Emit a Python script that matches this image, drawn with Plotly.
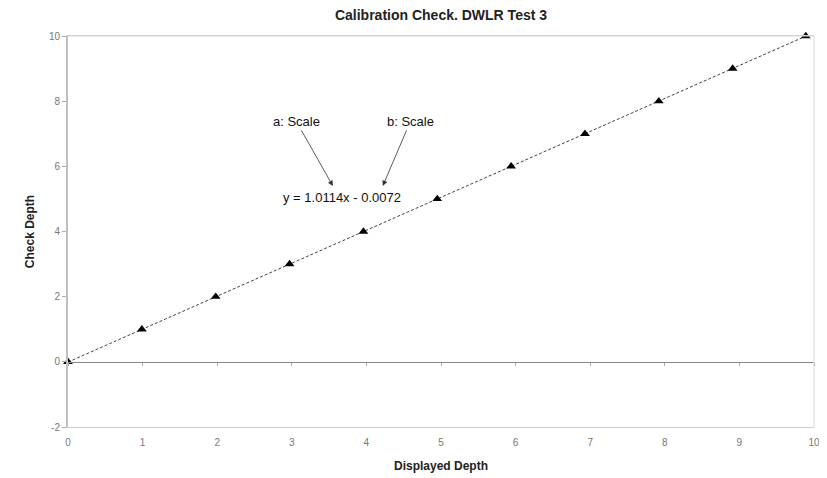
import plotly.graph_objects as go

displayed_depth = [0, 0.99, 1.98, 2.97, 3.96, 4.95, 5.94, 6.93, 7.92, 8.91, 9.89]
check_depth = [0, 1, 2, 3, 4, 5, 6, 7, 8, 9, 10]
slope = 1.0114
intercept = -0.0072
trend_x = [0, 9.89]
trend_y = [slope * v + intercept for v in trend_x]

x_ticks = list(range(0, 11))
y_ticks = [-2, 0, 2, 4, 6, 8, 10]
y_tick_labels = ["-2", "0", "2", "4", "6", "8", "10"]

title = "Calibration Check. DWLR Test 3"
x_title = "Displayed Depth"
y_title = "Check Depth"
eq_text = "y = 1.0114x - 0.0072"

FONT = "Liberation Sans, Arial, sans-serif"
W, H = 819, 470  # page body has an 8px margin

fig = go.Figure()
fig.add_trace(go.Scatter(x=trend_x, y=trend_y, mode="lines",
                         line=dict(color="#444444", width=1, dash="3px,2px"),
                         showlegend=False, hoverinfo="skip"))
fig.add_trace(go.Scatter(x=displayed_depth, y=check_depth, mode="markers",
                         marker=dict(symbol="triangle-up", size=8.5, color="black"),
                         showlegend=False, cliponaxis=False))
# invisible trace to show tick marks on the zero line
fig.add_trace(go.Scatter(x=[0, 10], y=[0, 0], xaxis="x2", mode="lines",
                         line=dict(width=0), showlegend=False, hoverinfo="skip"))

ann_font = dict(family=FONT, size=13, color="#111111")
fig.add_annotation(x=3.55, y=5.4, ax=3.06, ay=7.38, axref="x", ayref="y",
                   text="a: Scale", showarrow=True, arrowhead=2, arrowsize=1.3,
                   arrowwidth=0.8, arrowcolor="#333333", standoff=0, font=ann_font)
fig.add_annotation(x=4.22, y=5.4, ax=4.59, ay=7.38, axref="x", ayref="y",
                   text="b: Scale", showarrow=True, arrowhead=2, arrowsize=1.3,
                   arrowwidth=0.8, arrowcolor="#333333", standoff=0, font=ann_font)
fig.add_annotation(x=3.67, y=5.05, text=eq_text, showarrow=False, font=ann_font)

fig.update_layout(
    width=W, height=H,
    margin=dict(l=60, r=13, t=28, b=51, autoexpand=False),
    paper_bgcolor="white", plot_bgcolor="white",
    title=dict(text="<b>" + title + "</b>", x=0.5, xref="paper", y=1 - 7 / H,
               yref="container", yanchor="middle",
               font=dict(family=FONT, size=14, color="#222222")),
    font=dict(family=FONT),
    xaxis=dict(range=[0, 10], tickvals=x_ticks, showgrid=False, zeroline=False,
               showline=True, linecolor="#d0d0d0", linewidth=1, mirror=True,
               ticks="outside", ticklen=6, tickcolor="rgba(0,0,0,0)",
               tickfont=dict(size=10, color="#777777"), automargin=False,
               title=dict(text="<b>" + x_title + "</b>", standoff=14,
                          font=dict(size=12, color="#222222"))),
    xaxis2=dict(range=[0, 10], tickvals=x_ticks, overlaying="x", anchor="free",
                position=(0 - (-2)) / 12, side="bottom", showgrid=False, zeroline=False,
                showline=True, linecolor="#888888", linewidth=1,
                ticks="outside", ticklen=3, tickcolor="#aaaaaa",
                showticklabels=False, automargin=False),
    yaxis=dict(range=[-2, 10], tickvals=y_ticks, ticktext=y_tick_labels,
               showgrid=False, zeroline=False,
               showline=True, linecolor="#c0c0c0", linewidth=2, mirror=False,
               ticks="outside", ticklen=4, tickcolor="#aaaaaa",
               tickfont=dict(size=10, color="#777777"), automargin=False,
               title=dict(text="<b>" + y_title + "</b>", standoff=12,
                          font=dict(size=12, color="#222222"))),
    shapes=[dict(type="line", xref="paper", yref="paper", x0=0, x1=1, y0=1, y1=1,
                 line=dict(color="#d8d8d8", width=1)),
            dict(type="line", xref="paper", yref="paper", x0=1, x1=1, y0=0, y1=1,
                 line=dict(color="#d8d8d8", width=1))],
)

fig.write_html("out.html")
